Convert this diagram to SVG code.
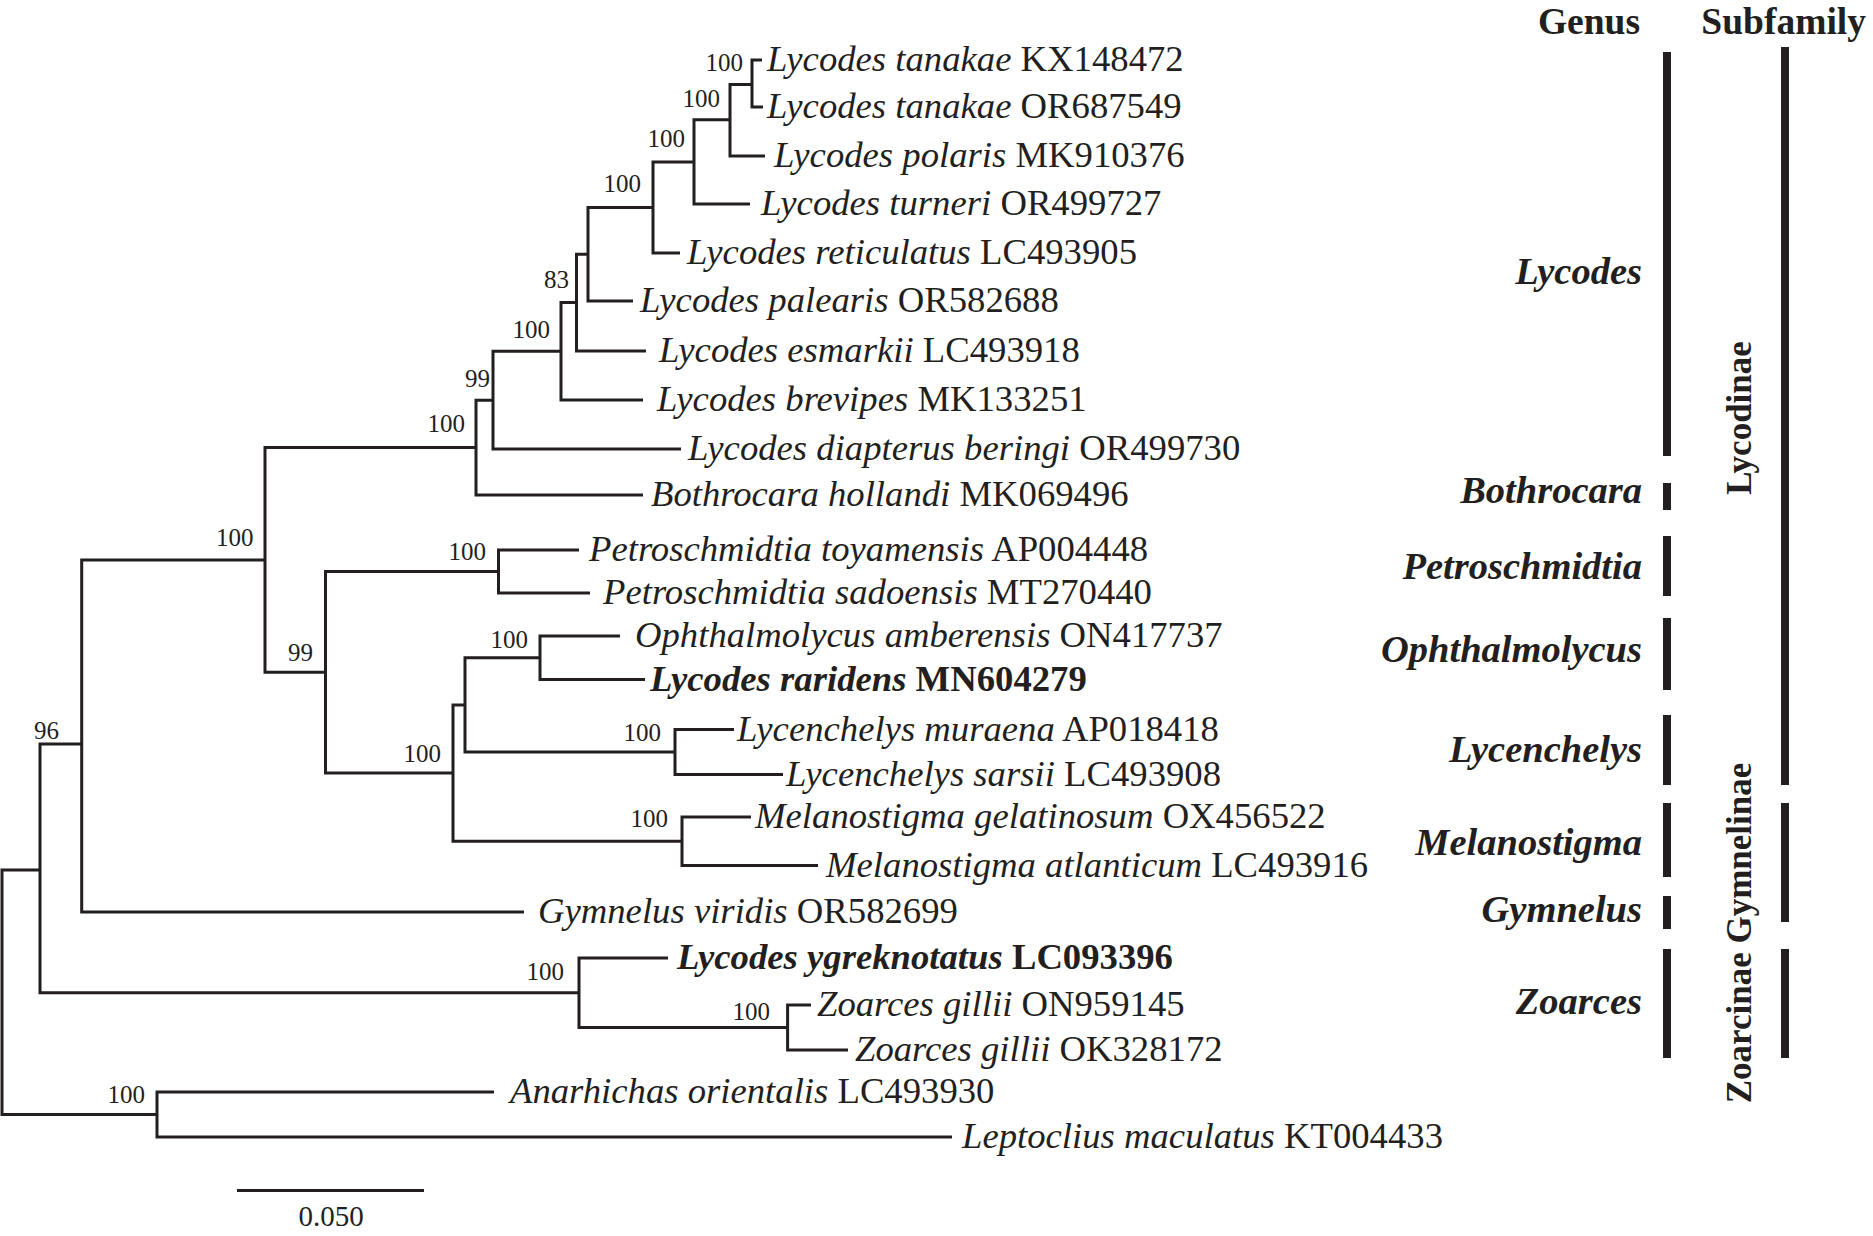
<svg xmlns="http://www.w3.org/2000/svg" width="1873" height="1236" viewBox="0 0 1873 1236">
<style>
.br{fill:none;stroke:#231f20;stroke-width:3;stroke-linejoin:miter;stroke-linecap:butt}
text{font-family:"Liberation Serif","Times New Roman",serif;fill:#231f20}
.leaf{font-size:36.7px}
.i{font-style:italic}
.bd{font-weight:bold}
.bs{font-size:25px;text-anchor:end}
.genus{font-size:38.5px;font-weight:bold;font-style:italic;text-anchor:end}
.hdr{font-size:37.5px;font-weight:bold;text-anchor:end}
.sub{font-size:35px;font-weight:bold;text-anchor:middle}
.bar{fill:#231f20}
</style>
<rect width="1873" height="1236" fill="#ffffff"/>

<g id="connectors">
<path class="br" d="M762 60 H752 V107 H763"/>
<path class="br" d="M752 84.5 H730 V156 H765"/>
<path class="br" d="M730 119.75 H694 V204 H750"/>
<path class="br" d="M694 161.9 H653 V253 H680"/>
<path class="br" d="M653 207.4 H588 V301 H633"/>
<path class="br" d="M588 254.2 H576.5 V351 H646"/>
<path class="br" d="M576.5 302.6 H561 V400 H643"/>
<path class="br" d="M561 351.3 H493 V449 H681"/>
<path class="br" d="M493 400.2 H476 V495 H643"/>
<path class="br" d="M579 550 H498.5 V593 H590"/>
<path class="br" d="M620 636 H540 V679.5 H645"/>
<path class="br" d="M734 729.5 H675 V774.5 H783"/>
<path class="br" d="M540 657.75 H465 V752 H675"/>
<path class="br" d="M751 817 H682 V865.5 H818"/>
<path class="br" d="M465 704.9 H453 V841.25 H682"/>
<path class="br" d="M498.5 571.5 H325.5 V773 H453"/>
<path class="br" d="M476 447.6 H265 V672.25 H325.5"/>
<path class="br" d="M265 559.9 H81.7 V912 H524"/>
<path class="br" d="M811 1005 H787.6 V1050 H848"/>
<path class="br" d="M668 958 H579 V1027.5 H787.6"/>
<path class="br" d="M81.7 744 H40 V992.75 H579"/>
<path class="br" d="M494 1092 H157 V1137 H952"/>
<path class="br" d="M40 870 H2 V1114.5 H157"/>
</g>

<g id="bootstrap">
<g id="nA"><text class="bs" x="743" y="70.5">100</text></g>
<g id="nB"><text class="bs" x="720" y="107">100</text></g>
<g id="nC"><text class="bs" x="685" y="147">100</text></g>
<g id="nD"><text class="bs" x="641" y="192">100</text></g>
<g id="nF"><text class="bs" x="569" y="288">83</text></g>
<g id="nG"><text class="bs" x="550" y="338">100</text></g>
<g id="nH"><text class="bs" x="490" y="387">99</text></g>
<g id="nI"><text class="bs" x="465" y="432">100</text></g>
<g id="nJ"><text class="bs" x="253.5" y="546">100</text></g>
<g id="nK"><text class="bs" x="313" y="661">99</text></g>
<g id="nL"><text class="bs" x="486" y="560">100</text></g>
<g id="nO"><text class="bs" x="528" y="648">100</text></g>
<g id="nM"><text class="bs" x="441" y="762">100</text></g>
<g id="nP"><text class="bs" x="661" y="741">100</text></g>
<g id="nQ"><text class="bs" x="668" y="827">100</text></g>
<g id="nS"><text class="bs" x="59" y="739">96</text></g>
<g id="nT"><text class="bs" x="564" y="980">100</text></g>
<g id="nU"><text class="bs" x="770" y="1020">100</text></g>
<g id="nV"><text class="bs" x="145" y="1103">100</text></g>
</g>

<g id="leaves">
<g id="leaf1"><text class="leaf" x="767" y="71"><tspan class="i">Lycodes tanakae</tspan> KX148472</text></g>
<g id="leaf2"><text class="leaf" x="767" y="118"><tspan class="i">Lycodes tanakae</tspan> OR687549</text></g>
<g id="leaf3"><text class="leaf" x="774" y="167"><tspan class="i">Lycodes polaris</tspan> MK910376</text></g>
<g id="leaf4"><text class="leaf" x="761" y="215"><tspan class="i">Lycodes turneri</tspan> OR499727</text></g>
<g id="leaf5"><text class="leaf" x="687" y="264"><tspan class="i">Lycodes reticulatus</tspan> LC493905</text></g>
<g id="leaf6"><text class="leaf" x="640" y="312"><tspan class="i">Lycodes palearis</tspan> OR582688</text></g>
<g id="leaf7"><text class="leaf" x="659" y="362"><tspan class="i">Lycodes esmarkii</tspan> LC493918</text></g>
<g id="leaf8"><text class="leaf" x="657" y="411"><tspan class="i">Lycodes brevipes</tspan> MK133251</text></g>
<g id="leaf9"><text class="leaf" x="688" y="460"><tspan class="i">Lycodes diapterus beringi</tspan> OR499730</text></g>
<g id="leaf10"><text class="leaf" x="651" y="506"><tspan class="i">Bothrocara hollandi</tspan> MK069496</text></g>
<g id="leaf11"><text class="leaf" x="589" y="561"><tspan class="i">Petroschmidtia toyamensis</tspan> AP004448</text></g>
<g id="leaf12"><text class="leaf" x="603" y="604"><tspan class="i">Petroschmidtia sadoensis</tspan> MT270440</text></g>
<g id="leaf13"><text class="leaf" x="635" y="647"><tspan class="i">Ophthalmolycus amberensis</tspan> ON417737</text></g>
<g id="leaf14"><text class="leaf bd" x="650" y="690.5"><tspan class="i">Lycodes raridens</tspan> MN604279</text></g>
<g id="leaf15"><text class="leaf" x="737" y="740.5"><tspan class="i">Lycenchelys muraena</tspan> AP018418</text></g>
<g id="leaf16"><text class="leaf" x="786" y="785.5"><tspan class="i">Lycenchelys sarsii</tspan> LC493908</text></g>
<g id="leaf17"><text class="leaf" x="755" y="828"><tspan class="i">Melanostigma gelatinosum</tspan> OX456522</text></g>
<g id="leaf18"><text class="leaf" x="826" y="876.5"><tspan class="i">Melanostigma atlanticum</tspan> LC493916</text></g>
<g id="leaf19"><text class="leaf" x="538" y="923"><tspan class="i">Gymnelus viridis</tspan> OR582699</text></g>
<g id="leaf20"><text class="leaf bd" x="677" y="969"><tspan class="i">Lycodes ygreknotatus</tspan> LC093396</text></g>
<g id="leaf21"><text class="leaf" x="817" y="1016"><tspan class="i">Zoarces gillii</tspan> ON959145</text></g>
<g id="leaf22"><text class="leaf" x="855" y="1061"><tspan class="i">Zoarces gillii</tspan> OK328172</text></g>
<g id="leaf23"><text class="leaf" x="510" y="1103"><tspan class="i">Anarhichas orientalis</tspan> LC493930</text></g>
<g id="leaf24"><text class="leaf" x="962" y="1148"><tspan class="i">Leptoclius maculatus</tspan> KT004433</text></g>
</g>

<g id="scalebar">
<line x1="237" y1="1190.5" x2="424" y2="1190.5" stroke="#231f20" stroke-width="3"/>
<text x="331" y="1226" font-size="29" text-anchor="middle">0.050</text>
</g>

<g id="headers">
<text class="hdr" x="1640" y="34">Genus</text>
<text class="hdr" x="1866" y="34">Subfamily</text>
</g>

<g id="genus-Lycodes"><rect class="bar" x="1663" y="52" width="8" height="404"/><text class="genus" x="1642" y="284">Lycodes</text></g>
<g id="genus-Bothrocara"><rect class="bar" x="1663" y="483" width="8" height="27"/><text class="genus" x="1642" y="503">Bothrocara</text></g>
<g id="genus-Petroschmidtia"><rect class="bar" x="1663" y="536" width="8" height="60"/><text class="genus" x="1642" y="579">Petroschmidtia</text></g>
<g id="genus-Ophthalmolycus"><rect class="bar" x="1663" y="618" width="8" height="72"/><text class="genus" x="1642" y="662">Ophthalmolycus</text></g>
<g id="genus-Lycenchelys"><rect class="bar" x="1663" y="715" width="8" height="70"/><text class="genus" x="1642" y="762">Lycenchelys</text></g>
<g id="genus-Melanostigma"><rect class="bar" x="1663" y="803" width="8" height="74"/><text class="genus" x="1642" y="855">Melanostigma</text></g>
<g id="genus-Gymnelus"><rect class="bar" x="1663" y="896" width="8" height="33"/><text class="genus" x="1642" y="922">Gymnelus</text></g>
<g id="genus-Zoarces"><rect class="bar" x="1663" y="949" width="8" height="109"/><text class="genus" x="1642" y="1014">Zoarces</text></g>

<g id="sub-Lycodinae"><rect class="bar" x="1781" y="47" width="8" height="738"/><text class="sub" transform="translate(1751 418) rotate(-90)">Lycodinae</text></g>
<g id="sub-Gymnelinae"><rect class="bar" x="1781" y="803" width="8" height="119"/></g>
<g id="sub-Zoarcinae"><rect class="bar" x="1781" y="949" width="8" height="109"/></g>
<g id="sub-label-ZG"><text class="sub" transform="translate(1751 933) rotate(-90)">Zoarcinae Gymnelinae</text></g>
</svg>
